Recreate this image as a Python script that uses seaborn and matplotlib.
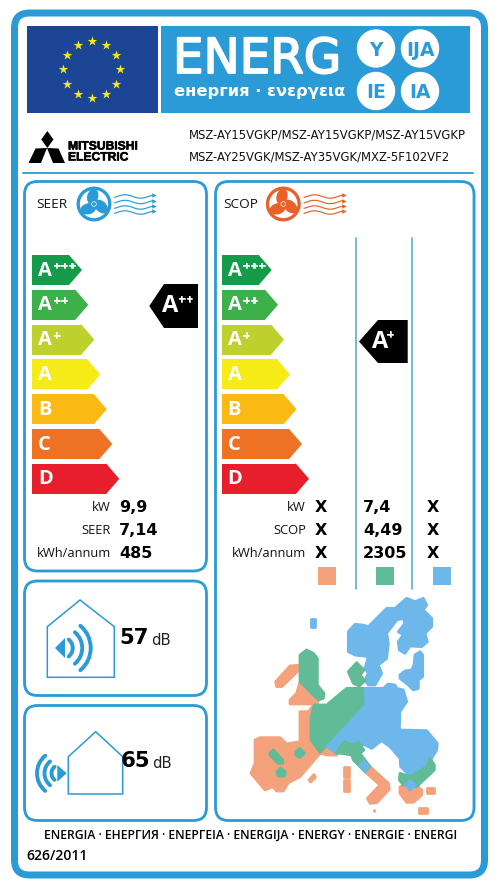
import numpy as np
import pandas as pd
import matplotlib
matplotlib.use("Agg")
import matplotlib.pyplot as plt
import matplotlib.patheffects as pe
from matplotlib.patches import FancyBboxPatch, Rectangle, Circle, Polygon, Ellipse, Arc
import seaborn as sns

sns.set_theme(style="white")
plt.rcParams['font.family'] = ['Open Sans', 'DejaVu Sans']

# ---- data ----
class_letters = ["A", "A", "A", "A", "B", "C", "D"]
class_plus = ["+++", "++", "+", "", "", "", ""]
class_names = ["A+++", "A++", "A+", "A", "B", "C", "D"]
class_lengths = [49.7, 56, 62, 68, 74.5, 80, 87]
class_colors = ["#159B49", "#3DB04A", "#BDD02E", "#F6EB16", "#FBBA13", "#EE7124", "#E71F2D"]
models = ["MSZ-AY15VGKP/MSZ-AY15VGKP/MSZ-AY15VGKP", "MSZ-AY25VGK/MSZ-AY35VGK/MXZ-5F102VF2"]
cool_labels = ["kW", "SEER", "kWh/annum"]
cool_values = ["9,9", "7,14", "485"]
heat_labels = ["kW", "SCOP", "kWh/annum"]
heat_cold = ["X", "X", "X"]
heat_avg = ["7,4", "4,49", "2305"]
heat_warm = ["X", "X", "X"]
zone_colors = ["#F4A27C", "#62BB97", "#6DB7EA"]
indoor_db = "57"
outdoor_db = "65"
footer = "ENERGIA · ЕНЕРГИЯ · ΕΝΕΡΓΕΙΑ · ENERGIJA · ENERGY · ENERGIE · ENERGI"
regulation = "626/2011"

BLUE = "#2A9BD7"
ORANGE, GREEN, SKY = zone_colors

fig = plt.figure(figsize=(5, 8.92), dpi=100)
ax = fig.add_axes([0, 0, 1, 1])
ax.set_xlim(0, 500)
ax.set_ylim(892, 0)
ax.axis("off")


def rbox(x0, y0, x1, y1, r, lw, ec=BLUE):
    ax.add_patch(FancyBboxPatch((x0, y0), x1 - x0, y1 - y0,
                                boxstyle=f"round,pad=0,rounding_size={r}",
                                fc="none", ec=ec, lw=lw * 0.72))


rbox(14.5, 13, 484.5, 875, 15, 7)
ax.plot([23, 473], [173, 173], color=BLUE, lw=1.3)
rbox(24.5, 181.5, 206.5, 571, 13, 2.8)
rbox(215.5, 181.5, 474, 820.5, 13, 2.8)
rbox(24.5, 581, 206.5, 695.5, 13, 2.8)
rbox(24.5, 705.5, 206.5, 820.5, 13, 2.8)

# header
ax.add_patch(Rectangle((26.5, 26), 131, 87, fc="#1C4596", ec="none"))
ax.add_patch(Rectangle((161, 26), 309, 87, fc=BLUE, ec="none"))
star_angles = np.deg2rad(np.arange(0, 360, 30))
ax.scatter(91.8 + 28.5 * np.cos(star_angles), 69.3 + 28.5 * np.sin(star_angles),
           marker="*", s=52, color="#F7E61B", linewidths=0, zorder=3)
ax.text(173, 59.5, "ENERG", color="white", fontsize=34.8, family="DejaVu Sans", va="center", ha="left",
        path_effects=[pe.withStroke(linewidth=1.3, foreground="white")])
ax.text(174, 91.5, "енергия · ενεργεια", color="white", fontsize=11.7, family="DejaVu Sans",
        weight="bold", va="center", ha="left")
for (cx, cy, s) in [(376, 48.5, "Y"), (420, 48.5, "IJA"), (376, 91, "IE"), (420, 91, "IA")]:
    ax.add_patch(Circle((cx, cy), 19.2, fc="white", ec="none"))
    ax.text(cx, cy, s, color=BLUE, fontsize=13.5, family="DejaVu Sans", weight="bold",
            ha="center", va="center_baseline")

# logo
for pts in [[(47.3, 131), (53.5, 139.5), (47.3, 148), (41.3, 139.5)],
            [(47, 148), (35.5, 148.5), (28.5, 163), (41, 163)],
            [(47, 148), (58.5, 148.5), (65, 163), (53, 163)]]:
    ax.add_patch(Polygon(pts, fc="black", ec="none"))
ax.text(68, 146.5, "MITSUBISHI", fontsize=8.7, family="Liberation Sans", weight="bold",
        color="black", va="center", ha="left",
        path_effects=[pe.withStroke(linewidth=0.4, foreground="black")])
ax.text(68, 157.5, "ELECTRIC", fontsize=8.7, family="Liberation Sans", weight="bold",
        color="black", va="center", ha="left",
        path_effects=[pe.withStroke(linewidth=0.4, foreground="black")])
ax.text(188.5, 135, models[0], fontsize=8.4, family="DejaVu Sans", color="#111111", va="center", ha="left")
ax.text(188.5, 157, models[1], fontsize=8.4, family="DejaVu Sans", color="#111111", va="center", ha="left")


def fan(cx, cy, col, wx):
    ax.add_patch(Circle((cx, cy), 15.8, fc="white", ec=col, lw=3.3 * 0.72))
    for a in (20, 140, 260):
        rad = np.deg2rad(a)
        ax.add_patch(Ellipse((cx + 7.5 * np.cos(rad), cy + 7.5 * np.sin(rad)), 16, 11,
                             angle=a + 25, fc=col, ec="none"))
    ax.add_patch(Circle((cx, cy), 2.3, fc=col, ec="white", lw=0.5))
    t = np.linspace(0, 1, 40)
    for y0 in (196.5, 202, 207.5, 212.5):
        y = y0 + 1.7 * np.sin(t * 2 * np.pi * 1.25 + 2.6)
        ax.plot(wx + 39 * t, y, color=col, lw=0.85)
        ax.plot([wx + 39.5], [y[-1]], marker=">", ms=3.2, color=col, mew=0)


fan(94, 204, BLUE, 114.5)
fan(283.3, 204, "#E8602A", 304)
ax.text(36.5, 204.5, "SEER", fontsize=9.7, color="#111111", va="center", ha="left")
ax.text(223, 204.5, "SCOP", fontsize=9.7, color="#111111", va="center", ha="left")

# heating columns
for x in (355.7, 412.3):
    ax.plot([x, x], [238, 589], color="#5AAEDC", lw=1.2)


def ladder(left_px):
    sub = fig.add_axes([left_px / 500, 1 - 496.2 / 892, 100 / 500, 243.6 / 892])
    sub.patch.set_alpha(0)
    df = pd.DataFrame({"cls": class_names, "body": [v - 13 for v in class_lengths]})
    sns.barplot(data=df, y="cls", x="body", hue="cls", palette=class_colors, order=class_names,
                hue_order=class_names, width=0.865, legend=False, ax=sub, saturation=1, linewidth=0)
    for i, ln in enumerate(class_lengths):
        sub.fill([ln - 14, ln - 13, ln, ln - 13, ln - 14],
                 [i - 0.4325, i - 0.4325, i, i + 0.4325, i + 0.4325], color=class_colors[i], lw=0)
        sub.text(5.5, i + 0.02, class_letters[i], color="white", fontsize=14.5, weight="bold",
                 ha="left", va="center")
        if class_plus[i]:
            sub.text(20.5, i - 0.12, class_plus[i], color="white", fontsize=6.6, weight="bold",
                     ha="left", va="center", family="DejaVu Sans",
                     path_effects=[pe.withStroke(linewidth=0.4, foreground="white")])
    sub.set_xlim(0, 100)
    sub.set_ylim(6.5, -0.5)
    sub.axis("off")


ladder(32.3)
ladder(222)


def badge(tip, body, right, top, bottom, plus, ax_off, plus_off):
    ax.add_patch(Polygon([(tip, (top + bottom) / 2), (body, top), (right, top), (right, bottom), (body, bottom)],
                         fc="black", ec="none", zorder=4))
    ax.text(body + ax_off, (top + bottom) / 2 + 0.5, "A", color="white", fontsize=17, weight="bold",
            ha="left", va="center", zorder=5)
    ax.text(body + plus_off, (top + bottom) / 2 - 7, plus, color="white", fontsize=6.6, weight="bold",
            ha="left", va="center", family="DejaVu Sans", zorder=5,
            path_effects=[pe.withStroke(linewidth=0.4, foreground="white")])


badge(149.3, 164, 198, 284, 328, "++", -2.5, 14)
badge(359, 378, 407.7, 320, 363, "+", -6.5, 8.5)

# tables
ys = [507.5, 530.5, 553.5]
for y, l, v in zip(ys, cool_labels, cool_values):
    ax.text(110.7, y, l, fontsize=9.3, color="#111111", ha="right", va="center")
    ax.text(119, y, v, fontsize=11.5, family="DejaVu Sans", weight="bold", color="black", ha="left", va="center")
for y, l, a, b, c in zip(ys, heat_labels, heat_cold, heat_avg, heat_warm):
    ax.text(306, y, l, fontsize=9.3, color="#111111", ha="right", va="center")
    ax.text(320.5, y, a, fontsize=11.5, family="DejaVu Sans", weight="bold", color="black", ha="center", va="center")
    ax.text(363, y, b, fontsize=11.5, family="DejaVu Sans", weight="bold", color="black", ha="left", va="center")
    ax.text(433, y, c, fontsize=11.5, family="DejaVu Sans", weight="bold", color="black", ha="center", va="center")
for x, col in zip((318, 375.7, 433), zone_colors):
    ax.add_patch(Rectangle((x, 567), 18, 18, fc=col, ec="none"))


# map (outline tracing, given at 3x relative to the map origin)
def region(pts, col):
    arr = np.array(pts, float) / 3 + np.array([240, 590])
    ax.add_patch(Polygon(arr, closed=True, fc=col, ec=col, lw=2.0, joinstyle="round"))


region([(325,125),(345,103),(368,105),(385,110),(440,55),(465,55),(500,25),(525,35),(550,25),(560,45),(550,60),(575,85),(575,110),(555,130),(562,155),(545,170),(510,168),(495,190),(478,180),(475,155),(490,135),(475,125),(495,100),(490,85),(470,90),(440,130),(445,160),(440,205),(415,225),(425,250),(405,285),(385,285),(375,270),(385,250),(375,235),(385,200),(345,195),(325,185)], SKY)
region([(525,195),(540,185),(548,195),(548,260),(535,270),(535,295),(520,300),(505,285),(480,265),(480,255),(495,243),(515,240),(522,225)], SKY)
region([(214,88),(226,88),(226,110),(214,110)], SKY)
region([(180,365),(205,365),(222,345),(213,385),(213,450),(240,487),(262,472),(290,495),(262,495),(240,490),(180,560),(145,578),(130,603),(110,603),(98,590),(75,600),(33,550),(45,520),(45,450),(60,443),(120,443),(140,462),(180,455)], ORANGE)
region([(107,275),(150,228),(175,226),(177,240),(125,290),(110,290)], ORANGE)
region([(180,275),(235,330),(232,342),(150,342),(150,330),(170,310)], ORANGE)
region([(390,530),(445,580),(448,598),(410,638),(390,640),(382,625),(420,585),(375,545)], ORANGE)
region([(480,590),(495,585),(510,602),(528,585),(545,600),(545,615),(520,637),(500,637),(480,610)], ORANGE)
for pts in ([(562,594),(583,594),(583,610),(562,610)], [(537,655),(560,655),(560,668),(537,668)],
            [(401,658),(403,658),(403,666),(401,666)], [(312,532),(326,532),(326,560),(312,560)],
            [(312,570),(326,570),(326,602),(312,602)], [(207,570),(222,554),(226,562),(212,576)]):
    region(pts, ORANGE)
region([(180,195),(200,180),(220,190),(232,205),(232,285),(252,310),(250,325),(235,330),(180,275)], GREEN)
region([(325,245),(350,218),(372,240),(360,255),(375,272),(358,288),(340,280)], GREEN)
region([(222,345),(240,345),(260,345),(320,295),(378,295),(378,345),(240,487),(213,450),(213,385)], GREEN)
region([(90,488),(100,480),(128,510),(128,520),(115,520),(90,496)], GREEN)
region([(167,485),(180,475),(193,490),(180,503),(167,495)], GREEN)
region([(110,545),(122,534),(136,545),(133,558),(114,558)], GREEN)
region([(375,295),(430,295),(445,282),(465,285),(470,295),(490,300),(500,335),(480,365),(478,420),(560,422),(592,460),(590,480),(560,530),(512,560),(482,530),(480,505),(450,470),(425,452),(395,475),(375,465),(345,460),(310,460),(290,490),(262,470),(378,345)], SKY)
region([(300,470),(315,455),(335,465),(355,457),(372,480),(360,490),(390,530),(375,545),(340,510),(335,495),(305,490),(290,490)], GREEN)
region([(372,514),(386,530),(375,543),(360,525)], SKY)
region([(570,505),(583,525),(583,540),(530,590),(490,585),(478,570),(480,550),(512,560),(560,530)], GREEN)
region([(510,572),(526,585),(510,600),(497,585)], SKY)

# sound icons
ax.add_patch(Polygon([(47.3, 626.7), (80, 600), (114.3, 626.7), (114.3, 677.3), (47.3, 677.3)],
                     closed=True, fc="none", ec=BLUE, lw=1.1))
ax.add_patch(Polygon([(68.3, 756.7), (95.7, 731.7), (122.7, 756.7), (122.7, 794), (68.3, 794)],
                     closed=True, fc="none", ec=BLUE, lw=1.1))
ax.add_patch(Polygon([(55, 648), (65, 638), (65, 658)], fc=BLUE, ec="none"))
for r in (11, 20.5, 29):
    ax.add_patch(Arc((61.7, 648), 2 * r, 2 * r, theta1=-50, theta2=50, ec=BLUE, lw=2.8, capstyle="round"))
ax.add_patch(Polygon([(66.7, 773.3), (57.3, 765), (57.3, 781.7)], fc=BLUE, ec="none"))
for r in (8.5, 15.5, 23):
    ax.add_patch(Arc((60, 773.3), 2 * r, 2 * r, theta1=130, theta2=230, ec=BLUE, lw=2.8, capstyle="round"))
ax.text(119, 638.5, indoor_db, fontsize=15.3, family="DejaVu Sans", weight="bold", color="black", ha="left", va="center")
ax.text(151.5, 640.5, "dB", fontsize=10.7, family="DejaVu Sans", color="#222222", ha="left", va="center")
ax.text(120.5, 761, outdoor_db, fontsize=15.3, family="DejaVu Sans", weight="bold", color="black", ha="left", va="center")
ax.text(152.5, 764, "dB", fontsize=10.7, family="DejaVu Sans", color="#222222", ha="left", va="center")

# footer
ax.text(250.5, 835.5, footer, fontsize=8.7, weight="semibold", color="black", ha="center", va="center")
ax.text(26.5, 856, regulation, fontsize=10, weight="semibold", color="black", ha="left", va="center")

fig.savefig("out.png", dpi=100, facecolor="white")
